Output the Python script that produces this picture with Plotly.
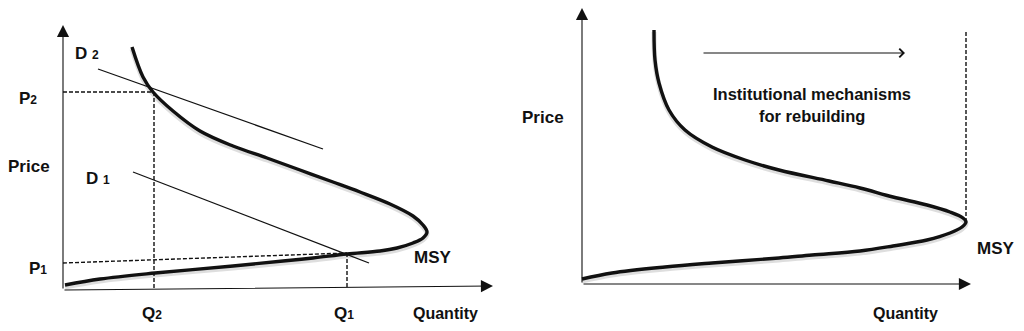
import plotly.graph_objects as go

# ---------------- Left panel (units: quantity, price) ----------------
left_curve_q = [69, 80, 90, 110, 137, 170, 204, 237, 270, 297, 327, 350, 360, 364, 360, 350, 334, 317, 284, 250, 220, 170, 92, 37, 2]
left_curve_p = [242, 212, 197, 178, 158, 143, 131, 119, 107, 97, 85, 73, 64, 57, 51, 46, 41, 38, 35, 31, 28, 23, 16, 10, 4]

d2_q = [35, 260]
d2_p = [220, 140]
d1_q = [70, 306]
d1_p = [117, 26]

Q2, P2 = 91, 197
Q1 = 284
P1_line_p = [26, 36]

# ---------------- Right panel ----------------
right_curve_q = [72, 73, 77, 87, 103, 130, 163, 197, 247, 278, 311, 345, 368, 381, 384, 380, 368, 345, 311, 278, 230, 197, 130, 83, 30, 0]
right_curve_p = [254, 224, 201, 174, 154, 137, 124, 114, 103, 96, 87, 79, 72, 66, 62, 57, 51, 44, 38, 33, 29, 26, 21, 17, 11, 5]
msy_q = 384
msy_p_range = [62, 252]
arrow_q = [120, 323]
arrow_p = 231

FONT = "Liberation Sans, Arial, sans-serif"
BLACK = "#111111"
SHADOW = "rgba(0,0,0,0.13)"

fig = go.Figure()

def sub(s):
    return f"<span style='font-size:12px'>{s}</span>"

# left curve shadow + curve
fig.add_trace(go.Scatter(x=left_curve_q, y=[p - 2 for p in left_curve_p], mode="lines",
                         line=dict(color=SHADOW, width=5, shape="spline", smoothing=1.0),
                         xaxis="x", yaxis="y", hoverinfo="skip"))
fig.add_trace(go.Scatter(x=left_curve_q, y=left_curve_p, mode="lines",
                         line=dict(color=BLACK, width=3.4, shape="spline", smoothing=1.0),
                         xaxis="x", yaxis="y"))
fig.add_trace(go.Scatter(x=d2_q, y=d2_p, mode="lines", line=dict(color=BLACK, width=1.3), xaxis="x", yaxis="y"))
fig.add_trace(go.Scatter(x=d1_q, y=d1_p, mode="lines", line=dict(color=BLACK, width=1.3), xaxis="x", yaxis="y"))
dash = dict(color=BLACK, width=1.4, dash="4px,2px")
fig.add_trace(go.Scatter(x=[0, Q2], y=[P2, P2], mode="lines", line=dash, xaxis="x", yaxis="y"))
fig.add_trace(go.Scatter(x=[Q2, Q2], y=[P2, 0], mode="lines", line=dash, xaxis="x", yaxis="y"))
fig.add_trace(go.Scatter(x=[0, Q1], y=P1_line_p, mode="lines", line=dash, xaxis="x", yaxis="y"))
fig.add_trace(go.Scatter(x=[Q1, Q1], y=[P1_line_p[1], 0], mode="lines", line=dash, xaxis="x", yaxis="y"))

# right curve
fig.add_trace(go.Scatter(x=right_curve_q, y=[p - 2 for p in right_curve_p], mode="lines",
                         line=dict(color=SHADOW, width=5, shape="spline", smoothing=1.0),
                         xaxis="x2", yaxis="y2", hoverinfo="skip"))
fig.add_trace(go.Scatter(x=right_curve_q, y=right_curve_p, mode="lines",
                         line=dict(color=BLACK, width=3.4, shape="spline", smoothing=1.0),
                         xaxis="x2", yaxis="y2"))
fig.add_trace(go.Scatter(x=[msy_q, msy_q], y=msy_p_range, mode="lines",
                         line=dict(color=BLACK, width=1.4, dash="4px,2px"), xaxis="x2", yaxis="y2"))

ann = []
def arrow(x0, y0, x1, y1, xr, yr, head=2, size=2.2, width=1.1):
    ann.append(dict(x=x1, y=y1, ax=x0, ay=y0, xref=xr, yref=yr, axref=xr, ayref=yr,
                    showarrow=True, arrowhead=head, arrowsize=size, arrowwidth=width,
                    arrowcolor=BLACK, text=""))

def label(x, y, t, xr, yr, size=17):
    ann.append(dict(x=x, y=y, xref=xr, yref=yr, text=f"<b>{t}</b>", showarrow=False,
                    font=dict(family=FONT, size=size, color=BLACK), xanchor="center", yanchor="middle"))

# axes
arrow(0, -1, 0, 264, "x", "y")
arrow(0, -1, 430, 3, "x", "y")
arrow(0, 0, 0, 276, "x2", "y2")
arrow(0, 0, 389, 0, "x2", "y2")
arrow(arrow_q[0], arrow_p, arrow_q[1], arrow_p, "x2", "y2", head=4, size=1.4, width=1.2)

# left labels
label(24, 236, "D " + sub("2"), "x", "y")
label(-35, 191, "P" + sub("2"), "x", "y")
label(-34, 123, "Price", "x", "y")
label(35, 111, "D " + sub("1"), "x", "y")
label(-25, 21, "P" + sub("1"), "x", "y")
label(370, 32, "MSY", "x", "y")
label(89, -24, "Q" + sub("2"), "x", "y")
label(281, -24, "Q" + sub("1"), "x", "y")
label(382, -24, "Quantity", "x", "y", size=16)

# right labels
label(-39, 167, "Price", "x2", "y2")
label(414, 36, "MSY", "x2", "y2")
label(323, -29, "Quantity", "x2", "y2", size=16)
label(230, 190, "Institutional mechanisms", "x2", "y2", size=16.5)
label(230, 168, "for rebuilding", "x2", "y2", size=16.5)

# The page adds an 8px body margin, so the figure is 1016x323 and sits at (8, 8).
hidden = dict(visible=False, fixedrange=True)
fig.update_layout(
    width=1016, height=323, margin=dict(l=0, r=0, t=0, b=0, pad=0),
    paper_bgcolor="white", plot_bgcolor="white", showlegend=False,
    xaxis=dict(domain=[0, 0.5], range=[-55, 453], **hidden),
    yaxis=dict(domain=[0, 1], range=[-42, 281], **hidden),
    xaxis2=dict(domain=[0.5, 1], range=[-66, 442], anchor="y2", **hidden),
    yaxis2=dict(domain=[0, 1], range=[-47, 276], anchor="x2", **hidden),
    annotations=ann,
)

fig.write_html("out.html")
